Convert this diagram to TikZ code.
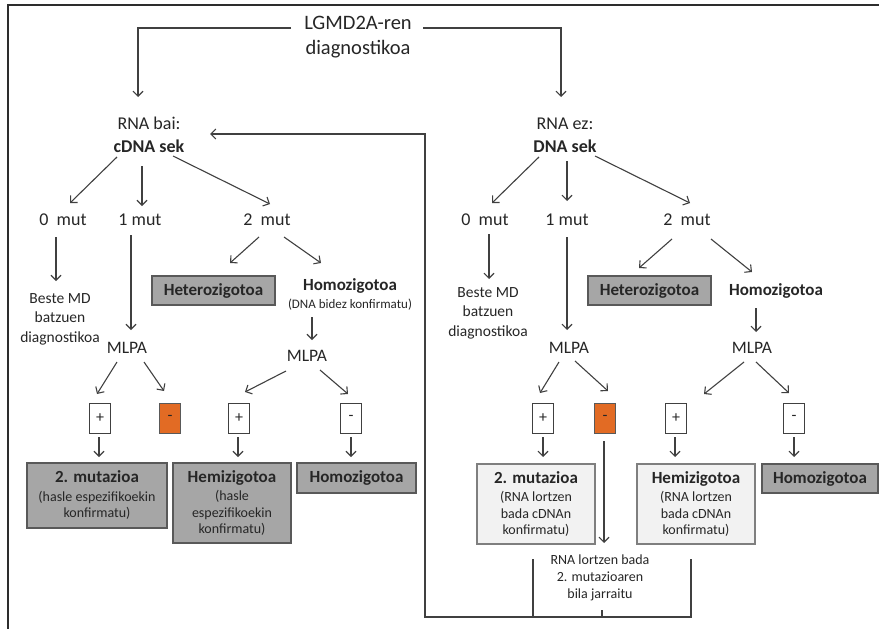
\documentclass[tikz,border=0pt]{standalone}
\usepackage{fontspec}
\setmainfont{Carlito}
\usetikzlibrary{arrows.meta,calc}
\definecolor{ln}{HTML}{404040}
\definecolor{txt}{HTML}{262626}
\definecolor{darkfill}{HTML}{A6A6A6}
\definecolor{darkedge}{HTML}{595959}
\definecolor{lightfill}{HTML}{F2F2F2}
\definecolor{lightedge}{HTML}{7F7F7F}
\definecolor{orng}{HTML}{E26B24}
\newcommand\boxhead[1]{{\fontsize{17}{19}\selectfont\bfseries #1}}
\tikzset{
 every node/.style={text=txt, inner sep=0pt},
 arr/.style={draw=ln, line width=1.1pt, -{Straight Barb[length=5pt,width=10pt]}},
 conn/.style={draw=ln, line width=1.1pt},
 frameline/.style={draw=ln!70!black, line width=1.8pt},
 fXL/.style={font=\fontsize{20.5}{25}\selectfont, align=center},
 fL/.style={font=\fontsize{18}{23}\selectfont, align=center},
 fM/.style={font=\fontsize{15.5}{19.5}\selectfont, align=center},
 fS/.style={font=\fontsize{14}{17}\selectfont, align=center},
 fN/.style={font=\fontsize{13}{15}\selectfont, align=center},
 mlpa/.style={font=\fontsize{17.5}{21}\selectfont},
 boldtxt/.style={font=\fontsize{17}{19}\selectfont\bfseries},
 darkbox/.style={fill=darkfill, draw=darkedge, line width=1.3pt, font=\fontsize{14}{16.5}\selectfont, align=center},
 lightbox/.style={fill=lightfill, draw=lightedge, line width=1.3pt, font=\fontsize{14}{16.5}\selectfont, align=center},
 pmbox/.style={draw=ln, line width=1pt, fill=white, minimum width=21pt, minimum height=30pt, font=\fontsize{16}{18}\selectfont},
 orbox/.style={pmbox, fill=orng, draw=darkedge},
}
\begin{document}
\begin{tikzpicture}[x=1pt,y=-1pt]
\useasboundingbox (0,0) rectangle (879,629);
\draw[frameline] (8,629) -- (8,5) -- (879,5);

% top
\node[fXL] (title) at (358,37) {LGMD2A-ren\\diagnostikoa};
\node[fL] (rnabai) at (149,135) {RNA bai:\\\textbf{cDNA sek}};
\node[fL] (rnaez) at (565,135) {RNA ez:\\\textbf{DNA sek}};

% mut level
\node[fL] (m0) at (63,220) {0~ mut};
\node[fL] (m1) at (140,220) {1 mut};
\node[fL] (m2) at (267,220) {2~ mut};
\node[fL] (rm0) at (485,220) {0~ mut};
\node[fL] (rm1) at (567,220) {1 mut};
\node[fL] (rm2) at (687,220) {2~ mut};

\node[fM] (besteL) at (60,319) {Beste MD\\batzuen\\diagnostikoa};
\node[fM] (besteR) at (488,313) {Beste MD\\batzuen\\diagnostikoa};

\node[darkbox, minimum width=123pt, minimum height=29pt] (heteroL) at (213.5,290.5) {\boxhead{Heterozigotoa}};
\node[darkbox, minimum width=123pt, minimum height=29pt] (heteroR) at (649.5,290.5) {\boxhead{Heterozigotoa}};
\node[boldtxt] (homoL) at (350,286) {Homozigotoa};
\node[fN] (homoLnote) at (350,305) {(DNA bidez konfirmatu)};
\node[boldtxt] (homoR) at (776,291) {Homozigotoa};

% MLPA
\node[mlpa] (mlpaL) at (127,348) {MLPA};
\node[mlpa] (mlpaHL) at (307,356) {MLPA};
\node[mlpa] (mlpaR) at (569,348) {MLPA};
\node[mlpa] (mlpaHR) at (752,348) {MLPA};

% +/- boxes
\node[pmbox] (Lp) at (100,418) {+};
\node[orbox] (Lm) at (170,418) {-};
\node[pmbox] (Lhp) at (239,418) {+};
\node[pmbox] (Lhm) at (351,418) {-};
\node[pmbox] (Rp) at (543,418) {+};
\node[orbox] (Rm) at (605,418) {-};
\node[pmbox] (Rhp) at (676,418) {+};
\node[pmbox] (Rhm) at (794,418) {-};

% results
\node[darkbox, minimum width=140pt, minimum height=65pt] (mut2L) at (97,495.5) {\boxhead{2. mutazioa}\\[2pt](hasle espezifikoekin\\konfirmatu)};
\node[darkbox, minimum width=118pt, minimum height=80pt] (hemiL) at (232,503) {\boxhead{Hemizigotoa}\\[2pt](hasle\\espezifikoekin\\konfirmatu)};
\node[darkbox, minimum width=119pt, minimum height=30pt] (homoBoxL) at (356.5,478) {\boxhead{Homozigotoa}};
\node[lightbox, minimum width=118pt, minimum height=80pt] (mut2R) at (536,504) {\boxhead{2. mutazioa}\\[2pt](RNA lortzen\\bada cDNAn\\konfirmatu)};
\node[lightbox, minimum width=118pt, minimum height=80pt] (hemiR) at (696,504) {\boxhead{Hemizigotoa}\\[2pt](RNA lortzen\\bada cDNAn\\konfirmatu)};
\node[darkbox, minimum width=116pt, minimum height=29pt] (homoBoxR) at (820,478.5) {\boxhead{Homozigotoa}};
\node[fS] (note) at (600,578) {RNA lortzen bada\\2. mutazioaren\\bila jarraitu};

% connectors
\draw[arr] ($(title)+(-67,-9)$) -| ($(rnabai)+(-11,-38)$);
\draw[arr] ($(title)+(65,-9)$) -| ($(rnaez)+(-4,-38)$);
\draw[arr] ($(rnabai)+(-32,22)$) -- ($(m0)+(7,-17)$);
\draw[arr] ($(rnabai)+(-7,31)$) -- ($(m1)+(2,-14)$);
\draw[arr] ($(rnabai)+(24,21)$) -- ($(m2)+(3,-16)$);
\draw[arr] ($(rnaez)+(-26,22)$) -- ($(rm0)+(7,-17)$);
\draw[arr] ($(rnaez)+(2,26)$) -- ($(rm1)+(0,-19)$);
\draw[arr] ($(rnaez)+(30,21)$) -- ($(rm2)+(3,-17)$);
\draw[arr] ($(m0)+(-7,17)$) -- ($(besteL)+(-4,-38)$);
\draw[arr] ($(rm0)+(4,14)$) -- ($(besteR)+(1,-34)$);
\draw[arr] ($(m1)+(-9,15)$) -- ($(mlpaL)+(4,-18)$);
\draw[arr] ($(rm1)+(0,17)$) -- ($(mlpaR)+(-2,-18)$);
\draw[arr] ($(m2)+(-8,17)$) -- ($(heteroL)+(16.5,-27.5)$);
\draw[arr] ($(m2)+(17,17)$) -- ($(homoL)+(-29,-23)$);
\draw[arr] ($(rm2)+(-15,19)$) -- ($(heteroR)+(-10.5,-22.5)$);
\draw[arr] ($(rm2)+(24,19)$) -- ($(homoR)+(-24,-19)$);
\draw[arr] ($(homoLnote)+(-38,12)$) -- ($(mlpaHL)+(5,-16)$);
\draw[arr] ($(homoR)+(-20,17)$) -- ($(mlpaHR)+(4,-16)$);
\draw[arr] ($(mlpaL)+(-10,14)$) -- ($(Lp)+(-3,-24)$);
\draw[arr] ($(mlpaL)+(17,14)$) -- ($(Lm)+(-6,-27)$);
\draw[arr] ($(mlpaHL)+(-21,15)$) -- ($(Lhp)+(6,-26)$);
\draw[arr] ($(mlpaHL)+(13,14)$) -- ($(Lhm)+(-3,-24)$);
\draw[arr] ($(mlpaR)+(-10,14)$) -- ($(Rp)+(-3,-25)$);
\draw[arr] ($(mlpaR)+(6,13)$) -- ($(Rm)+(3,-27)$);
\draw[arr] ($(mlpaHR)+(-8,14)$) -- ($(Rhp)+(28,-24)$);
\draw[arr] ($(mlpaHR)+(4,14)$) -- ($(Rhm)+(-5,-25)$);
\draw[arr] ($(Lp)+(-1,19)$) -- ($(mut2L)+(2,-38.5)$);
\draw[arr] ($(Lhp)+(-1,19)$) -- ($(hemiL)+(6,-46)$);
\draw[arr] ($(Lhm)+(0,19)$) -- ($(homoBoxL)+(-5.5,-21)$);
\draw[arr] ($(Rp)+(0,19)$) -- ($(mut2R)+(7,-47)$);
\draw[arr] ($(Rhp)+(-1,19)$) -- ($(hemiR)+(-21,-47)$);
\draw[arr] ($(Rhm)+(0,19)$) -- ($(homoBoxR)+(-26,-21.5)$);
\draw[arr] ($(Rm)+(-1,23)$) -- ($(note)+(4,-35)$);

% feedback loop
\coordinate (bot) at ($(note)+(2,39)$);
\coordinate (fbc) at (425,134);
\draw[conn] ($(note)+(-67,-19)$) |- (bot) -| ($(note)+(91,-19)$);
\draw[conn] ($(note)+(2,32)$) -- (bot);
\draw[arr] (bot) -| (fbc) -- ($(rnabai)+(61,-1)$);
\end{tikzpicture}
\end{document}
